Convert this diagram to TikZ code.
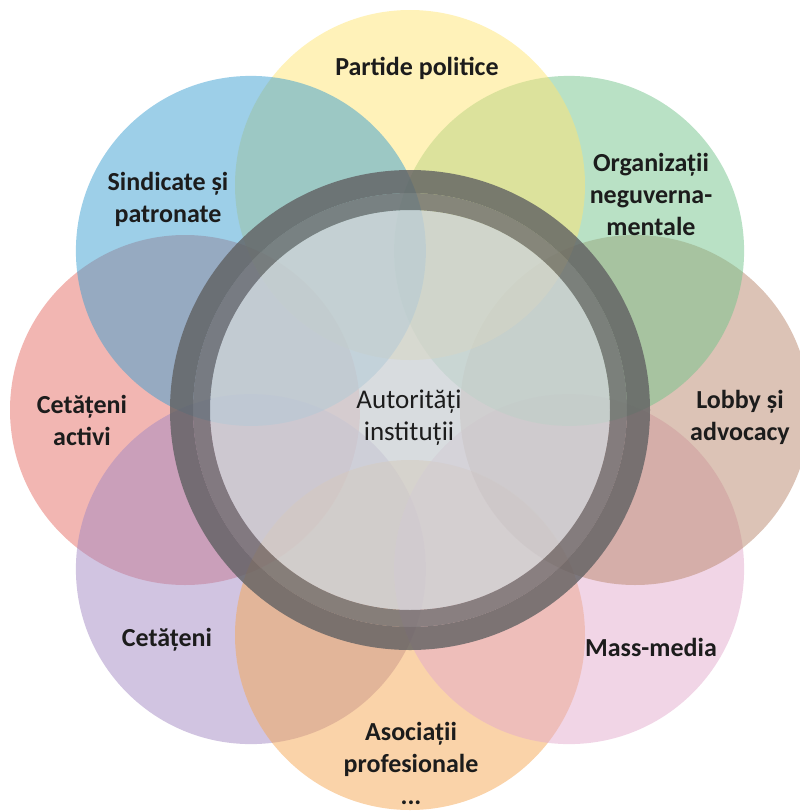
\documentclass[tikz,border=0pt]{standalone}
\usepackage{fontspec}
\setmainfont{Carlito}
\definecolor{cred}{RGB}{229,109,101}
\definecolor{cpurple}{RGB}{163,137,195}
\definecolor{corange}{RGB}{245,167,83}
\definecolor{cpink}{RGB}{227,171,205}
\definecolor{clobby}{RGB}{185,135,109}
\definecolor{cgreen}{RGB}{115,195,139}
\definecolor{cyellow}{RGB}{255,229,115}
\definecolor{cblue}{RGB}{59,159,209}
\definecolor{diskc}{RGB}{206,211,215}
\definecolor{ringdark}{RGB}{96,96,98}
\definecolor{ringlight}{RGB}{112,112,114}
\definecolor{txt}{RGB}{28,28,28}
\tikzset{
  petal/.style={fill=#1, fill opacity=0.5, draw=none},
  lbl/.style={text=txt, align=center, inner sep=0pt, font=\bfseries\fontsize{26}{32}\selectfont},
  clbl/.style={text=txt, align=center, inner sep=0pt, font=\fontsize{27}{32}\selectfont}
}
\begin{document}
\begin{tikzpicture}[x=1pt,y=-1pt]
\useasboundingbox (0,0) rectangle (800,812);
\clip (0,0) rectangle (800,812);
\coordinate (c) at (410,410);
\fill[petal=cred]    (185,410) circle (175);
\fill[petal=cpurple] (250.9,569.1) circle (175);
\fill[petal=corange] (410,635) circle (175);
\fill[petal=cpink]   (569.1,569.1) circle (175);
\fill[petal=clobby]  (635,410) circle (175);
\fill[petal=cgreen]  (569.1,250.9) circle (175);
\fill[petal=cyellow] (410,185) circle (175);
\fill[petal=cblue]   (250.9,250.9) circle (175);
% inner disk
\fill[diskc, fill opacity=0.8] (c) circle (200);
% ring
\fill[ringdark, fill opacity=0.8, even odd rule] (c) circle (240) (c) circle (217);
\fill[ringlight, fill opacity=0.8, even odd rule] (c) circle (217) (c) circle (200);
% labels
\node[clbl] (center) at (409,418) {Autorități\\instituții};
\node[lbl] (pp) at (417,68) {Partide politice};
\node[lbl] (ong) at (651,194) {Organizații\\neguverna-\\mentale};
\node[lbl] (lob) at (740,417) {Lobby și\\advocacy};
\node[lbl] (mm) at (651,647) {Mass-media};
\node[lbl] (ap) at (411,763) {Asociații\\profesionale\\...};
\node[lbl] (cet) at (167,640) {Cetățeni};
\node[lbl] (ca) at (82,420) {Cetățeni\\activi};
\node[lbl] (sp) at (168,199) {Sindicate și\\patronate};
\end{tikzpicture}
\end{document}
